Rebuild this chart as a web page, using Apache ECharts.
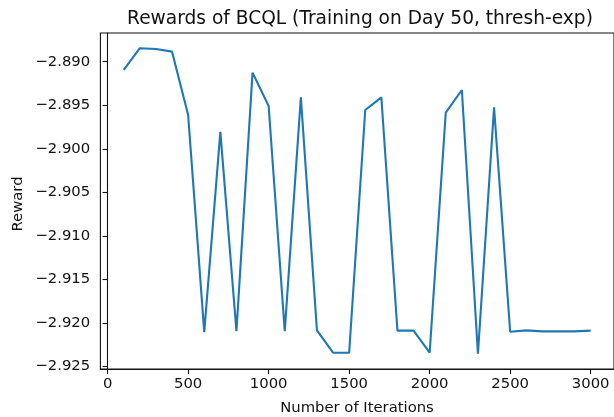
<!DOCTYPE html>
<html>
<head>
<meta charset="utf-8">
<script src="https://cdn.jsdelivr.net/npm/echarts@6/dist/echarts.min.js"></script>
<style>
html,body{margin:0;padding:0;background:#fff;}
#chart{width:614px;height:417px;}
</style>
</head>
<body>
<div id="chart"></div>
<script>
const iterations = [100,200,300,400,500,600,700,800,900,1000,1100,1200,1300,1400,1500,1600,1700,1800,1900,2000,2100,2200,2300,2400,2500,2600,2700,2800,2900,3000];
const rewards = [-2.89095,-2.88846,-2.88854,-2.88885,-2.89613,-2.92103,-2.89805,-2.92092,-2.89126,-2.89509,
                 -2.92092,-2.89409,-2.92084,-2.92340,-2.92340,-2.89555,-2.89409,-2.92087,-2.92087,-2.92340,
                 -2.89586,-2.89325,-2.92352,-2.89524,-2.92099,-2.92084,-2.92095,-2.92095,-2.92095,-2.92087];
const xTicks = [0,500,1000,1500,2000,2500,3000];
const yTicks = [-2.925,-2.920,-2.915,-2.910,-2.905,-2.900,-2.895,-2.890];
const titleText = 'Rewards of BCQL (Training on Day 50, thresh-exp)';
const xLabel = 'Number of Iterations';
const yLabel = 'Reward';

const chart = echarts.init(document.getElementById('chart'), null, {renderer:'canvas'});
const font = 'DejaVu Sans';
const tickSize = 14.8;
const fmtY = v => (v < 0 ? '\u2212' : '') + Math.abs(v).toFixed(3);
chart.setOption({
  animation: false,
  backgroundColor: '#fff',
  title: {
    text: titleText, left: 355, top: 5, textAlign: 'center',
    textStyle: {fontFamily: font, fontSize: 18.6, fontWeight: 'normal', color: '#111'}
  },
  grid: {left: 100.4, top: 33, width: 514.7, height: 336, show: true, borderColor: '#111', borderWidth: 1.1, containLabel: false},
  xAxis: {
    type: 'value', min: -45, max: 3145,
    axisLine: {show: true, lineStyle: {color: '#111', width: 1.1}},
    axisTick: {show: true, length: 5.1, lineStyle: {color: '#111', width: 1.1}, customValues: xTicks},
    axisLabel: {show: true, margin: 8, fontFamily: font, fontSize: tickSize, color: '#111', customValues: xTicks, formatter: v => String(v)},
    splitLine: {show: false}
  },
  yAxis: {
    type: 'value', min: -2.92527, max: -2.88671,
    axisLine: {show: true, lineStyle: {color: '#111', width: 1.1}},
    axisTick: {show: true, length: 5.1, lineStyle: {color: '#111', width: 1.1}, customValues: yTicks},
    axisLabel: {show: true, margin: 10.2, fontFamily: font, fontSize: tickSize, color: '#111', customValues: yTicks, formatter: fmtY},
    splitLine: {show: false}
  },
  graphic: [
    {type: 'text', x: 357, y: 408.5, style: {text: xLabel, font: tickSize + 'px "DejaVu Sans"', fill: '#111', textAlign: 'center', textVerticalAlign: 'middle'}},
    {type: 'text', x: 18, y: 204, rotation: Math.PI/2, style: {text: yLabel, font: tickSize + 'px "DejaVu Sans"', fill: '#111', textAlign: 'center', textVerticalAlign: 'middle'}}
  ],
  series: [{
    type: 'line',
    data: iterations.map((x, i) => [x, rewards[i]]),
    showSymbol: false,
    symbol: 'none',
    lineStyle: {color: '#1f77b4', width: 2.1},
    itemStyle: {color: '#1f77b4'}
  }]
});
</script>
</body>
</html>
